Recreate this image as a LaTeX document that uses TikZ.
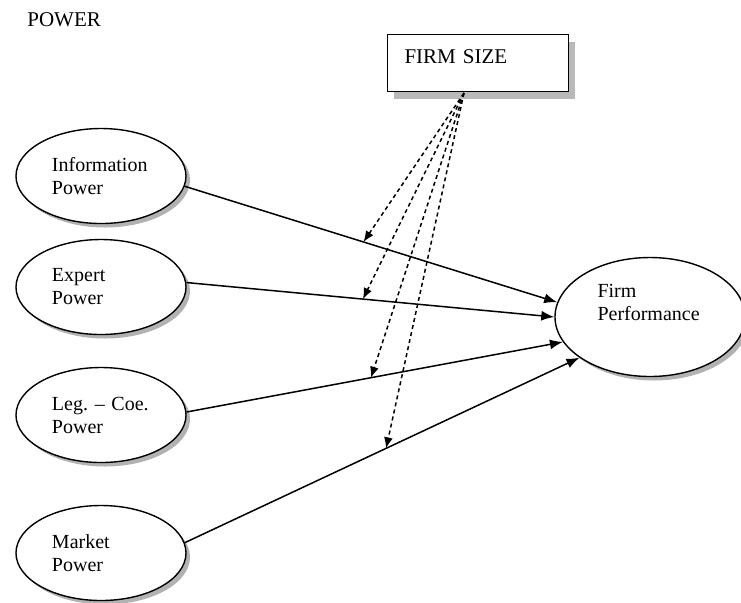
\documentclass[tikz,border=0pt]{standalone}
\usepackage{fontspec}
\setmainfont{Liberation Serif}
\usetikzlibrary{arrows.meta,shadows,shapes.geometric}

\tikzset{
  construct/.style={draw, ellipse, fill=white, line width=0.7pt,
    minimum width=85pt, minimum height=47.5pt, text width=49pt,
    align=left, inner sep=0pt, font=\fontsize{10}{11.5}\selectfont,
    drop shadow={shadow xshift=2pt, shadow yshift=-2pt, fill=black!60}},
  sizebox/.style={draw, rectangle, fill=white, line width=0.7pt,
    text width=73.5pt, align=left, inner xsep=8.5pt, inner ysep=6pt,
    minimum height=28.5pt, text height=7pt, text depth=7pt,
    font=\fontsize{10.5}{12}\selectfont,
    drop shadow={shadow xshift=3pt, shadow yshift=-3.5pt, fill=black!55}},
  effect/.style={line width=0.75pt, -{Latex[length=6.5pt,width=5pt]}},
  moderator/.style={line width=0.75pt, dash pattern=on 2pt off 1.6pt,
    -{Latex[length=5.5pt,width=4.5pt]}}
}

\begin{document}
\begin{tikzpicture}[x=0.5pt,y=-0.5pt]

\useasboundingbox (0,0) rectangle (741,602);

\node[anchor=west, inner sep=0pt, font=\fontsize{10.5}{12}\selectfont] (title) at (27,20) {POWER};

% moderator
\node[sizebox] (fs) at (478,63) {FIRM SIZE};

% power constructs
\node[construct] (info) at (101,176) {Information\\Power};
\node[construct] (expert) at (101,287) {Expert\\Power};
\node[construct] (legcoe) at (101,415) {Leg.~--~Coe.\\Power};
\node[construct] (market) at (101,553) {Market\\Power};

% outcome
\node[construct, minimum width=95pt, minimum height=59.5pt] (fp) at (650,317) {};
\node[text width=48.5pt, align=left, inner sep=0pt, font=\fontsize{10}{11.5}\selectfont] (fptext) at (646,302) {Firm\\Performance};

% direct effects
\draw[effect] (info.-7) -- coordinate[pos=0.48] (m1) (fp.171);
\draw[effect] (expert.3) -- coordinate[pos=0.48] (m2) (fp.west);
\draw[effect] (legcoe.2) -- coordinate[pos=0.49] (m3) (fp.196);
\draw[effect] (market.7) -- coordinate[pos=0.51] (m4) (fp.210);

% moderating effects
\coordinate (fsfoot) at (464,93);
\foreach \m in {m1,m2,m3,m4}
    \draw[moderator] (fsfoot) -- (\m);

\end{tikzpicture}
\end{document}
